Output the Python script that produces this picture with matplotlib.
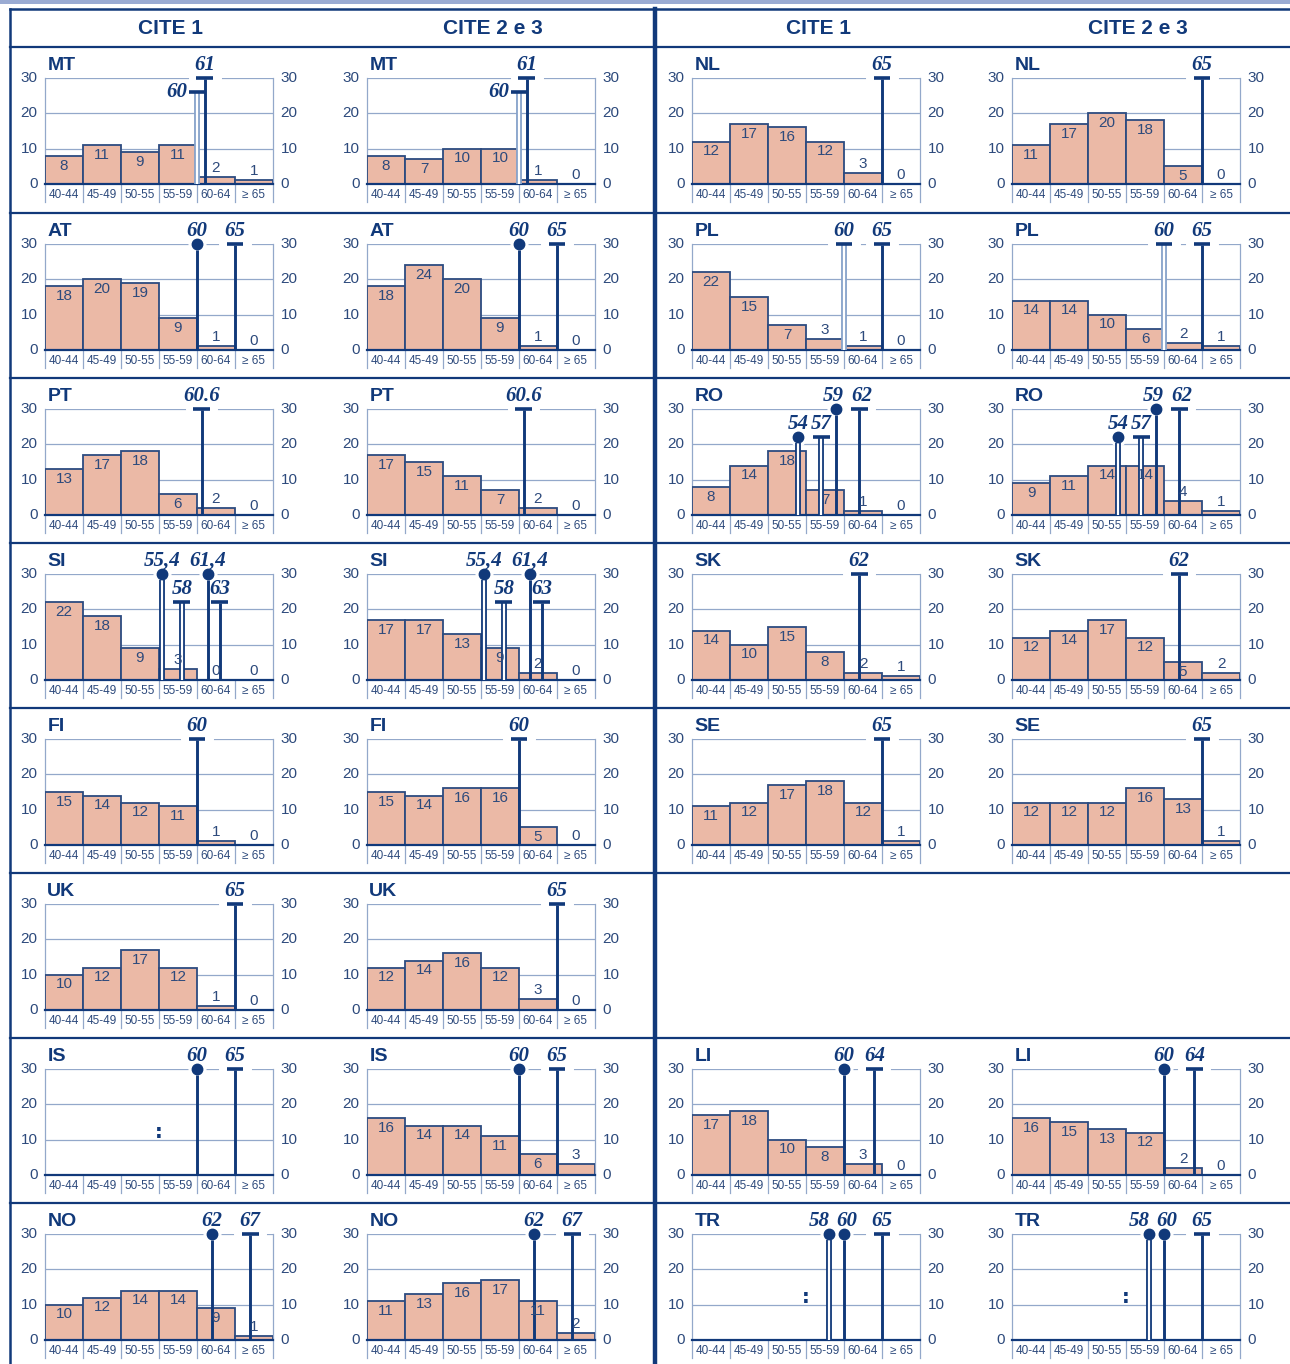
import matplotlib.pyplot as plt
import matplotlib.patches as mpatches

# age groups on the x axis (bins of 5 years from 40 to 70)
age_groups = ['40-44', '45-49', '50-55', '55-59', '60-64', '≥ 65']
bin_left = [40, 45, 50, 55, 60, 65]
y_ticks = [0, 10, 20, 30]

# share of employed persons by age group (%), CITE 1
cite1 = {
    'MT': [8, 11, 9, 11, 2, 1], 'NL': [12, 17, 16, 12, 3, 0],
    'AT': [18, 20, 19, 9, 1, 0], 'PL': [22, 15, 7, 3, 1, 0],
    'PT': [13, 17, 18, 6, 2, 0], 'RO': [8, 14, 18, 7, 1, 0],
    'SI': [22, 18, 9, 3, 0, 0], 'SK': [14, 10, 15, 8, 2, 1],
    'FI': [15, 14, 12, 11, 1, 0], 'SE': [11, 12, 17, 18, 12, 1],
    'UK': [10, 12, 17, 12, 1, 0],
    'IS': None, 'LI': [17, 18, 10, 8, 3, 0],
    'NO': [10, 12, 14, 14, 9, 1], 'TR': None,
}
# CITE 2 e 3
cite23 = {
    'MT': [8, 7, 10, 10, 1, 0], 'NL': [11, 17, 20, 18, 5, 0],
    'AT': [18, 24, 20, 9, 1, 0], 'PL': [14, 14, 10, 6, 2, 1],
    'PT': [17, 15, 11, 7, 2, 0], 'RO': [9, 11, 14, 14, 4, 1],
    'SI': [17, 17, 13, 9, 2, 0], 'SK': [12, 14, 17, 12, 5, 2],
    'FI': [15, 14, 16, 16, 5, 0], 'SE': [12, 12, 12, 16, 13, 1],
    'UK': [12, 14, 16, 12, 3, 0],
    'IS': [16, 14, 14, 11, 6, 3], 'LI': [16, 15, 13, 12, 2, 0],
    'NO': [11, 13, 16, 17, 11, 2], 'TR': None,
}

# retirement ages: (age, label, marker, marker height, line style)
# line style: 's' single, 'd' double, 'l' double light
ret_ages = {
    'MT': [(60, '60', 'capL', 26, 'l'), (61, '61', 'cap', 30, 's')],
    'NL': [(65, '65', 'cap', 30, 's')],
    'AT': [(60, '60', 'dot', 30, 's'), (65, '65', 'cap', 30, 's')],
    'PL': [(60, '60', 'cap', 30, 'l'), (65, '65', 'cap', 30, 's')],
    'PT': [(60.6, '60.6', 'cap', 30, 's')],
    'RO': [(54, '54', 'dot', 22, 'd'), (57, '57', 'cap', 22, 'd'),
           (59, '59', 'dot', 30, 's'), (62, '62', 'cap', 30, 's')],
    'SI': [(55.4, '55,4', 'dot', 30, 'd'), (61.4, '61,4', 'dot', 30, 's'),
           (58, '58', 'cap', 22, 'd'), (63, '63', 'cap', 22, 's')],
    'SK': [(62, '62', 'cap', 30, 's')],
    'FI': [(60, '60', 'cap', 30, 's')],
    'SE': [(65, '65', 'cap', 30, 's')],
    'UK': [(65, '65', 'cap', 30, 's')],
    'IS': [(60, '60', 'dot', 30, 's'), (65, '65', 'cap', 30, 's')],
    'LI': [(60, '60', 'dot', 30, 's'), (64, '64', 'cap', 30, 's')],
    'NO': [(62, '62', 'dot', 30, 's'), (67, '67', 'cap', 30, 's')],
    'TR': [(58, '58', 'dot', 30, 'd'), (60, '60', 'dot', 30, 's'),
           (65, '65', 'cap', 30, 's')],
}
# labels nudged sideways where they would collide
label_shift = {('TR', 58): -1.3, ('TR', 60): 0.4, ('RO', 59): -0.4, ('RO', 62): 0.3}

left_half = ['MT', 'AT', 'PT', 'SI', 'FI', 'UK', 'IS', 'NO']
right_half = ['NL', 'PL', 'RO', 'SK', 'SE', None, 'LI', 'TR']
headers = ['CITE 1', 'CITE 2 e 3', 'CITE 1', 'CITE 2 e 3']

navy = '#11397a'
textc = '#2d4a7c'
grid = '#93a8ca'
light = '#86a2ca'
fill = '#ebb9a6'
edge = '#2c4b80'
sans = 'Liberation Sans'

W, H = 1290, 1364
fig = plt.figure(figsize=(W / 100, H / 100), dpi=100)


def box(x, y, w, h):
    return [x / W, 1 - (y + h) / H, w / W, h / H]


bg = fig.add_axes([0, 0, 1, 1])
bg.set_xlim(0, W)
bg.set_ylim(H, 0)
bg.axis('off')
bg.add_patch(mpatches.Rectangle((0, 0), W, 3.5, color='#9aabd3', lw=0))
bg.plot([10, W], [9, 9], color=navy, lw=1.8)
bg.plot([10, 10], [9, H], color=navy, lw=1.8)
bg.plot([655, 655], [9, H], color=navy, lw=3.2)
row_tops = [47, 213, 378, 543, 708, 873, 1038, 1203]
for y in row_tops:
    bg.plot([10, W], [y, y], color=navy, lw=1.6)
cell_left = [10, 332, 657, 977]
for x, t in zip(cell_left, headers):
    bg.text(x + 161, 29, t, ha='center', va='center', fontsize=15,
            fontweight='bold', color=navy, family=sans)


def draw_panel(x0, y0, code, values):
    ax = fig.add_axes(box(x0 + 35, y0 + 31, 228, 106))
    ax.set_xlim(40, 70)
    ax.set_ylim(0, 30)
    ax.axis('off')
    for g in (10, 20, 30):
        ax.plot([40, 70], [g, g], color=grid, lw=0.9, zorder=1)
    for e in (40, 70):
        ax.plot([e, e], [-5, 30], color=grid, lw=0.9, zorder=1, clip_on=False)
    for e in range(45, 70, 5):
        ax.plot([e, e], [0, -5], color=grid, lw=0.9, clip_on=False)
    for i, lab in enumerate(age_groups):
        ax.text(bin_left[i] + 2.5, -3.2, lab, ha='center', va='center',
                fontsize=8.5, color=textc, family=sans)
    for t in y_ticks:
        ax.text(39.0, t, str(t), ha='right', va='center', fontsize=11,
                color=textc, family=sans)
        ax.text(71.0, t, str(t), ha='left', va='center', fontsize=11,
                color=textc, family=sans)
    ax.text(40.3, 33.6, code, ha='left', va='center', fontsize=14,
            fontweight='bold', color=navy, family=sans, clip_on=False)

    if values is None:
        ax.text(55, 12, ':', ha='center', va='center', fontsize=14,
                fontweight='bold', color=navy)
    else:
        ax.bar(bin_left, values, width=5, align='edge', color=fill,
               edgecolor=edge, lw=1.3, zorder=2)
        for xl, v in zip(bin_left, values):
            if v >= 5:
                ax.text(xl + 2.5, v - 0.8, str(v), ha='center', va='top',
                        fontsize=11, color=textc, family=sans, zorder=6)
            else:
                ax.text(xl + 2.5, v + 0.6, str(v), ha='center', va='bottom',
                        fontsize=11, color=textc, family=sans, zorder=6)
    ax.plot([40, 70], [0, 0], color=navy, lw=1.6, zorder=3, clip_on=False)

    for age, lab, kind, h, style in ret_ages[code]:
        is_dot = kind == 'dot'
        top = h - 1.7 if is_dot else h - 0.3
        if style == 's':
            ax.plot([age, age], [0, top], color=navy, lw=2.1,
                    solid_capstyle='butt', zorder=4, clip_on=False)
        else:
            c = light if style == 'l' else navy
            ax.plot([age, age], [0, top], color=c, lw=4.2,
                    solid_capstyle='butt', zorder=4, clip_on=False)
            ax.plot([age, age], [0, top], color='white', lw=1.6,
                    solid_capstyle='butt', zorder=4, clip_on=False)
        if is_dot:
            ax.plot([age], [h], 'o', color='white', ms=12, zorder=3,
                    clip_on=False)
            ax.plot([age], [h], 'o', color=navy, ms=7.5, zorder=5,
                    clip_on=False)
        else:
            ax.plot([age - 1.7, age + 1.7], [h, h], color='white', lw=5,
                    zorder=3, clip_on=False)
            ax.plot([age - 1.1, age + 1.1], [h, h], color=navy, lw=2.6,
                    solid_capstyle='butt', zorder=5, clip_on=False)
        lx = age + label_shift.get((code, age), 0)
        if kind == 'capL':
            ax.text(age - 1.3, h, lab, ha='right', va='center', fontsize=15,
                    style='italic', fontweight='bold', color=navy,
                    family='Liberation Serif', zorder=6)
        else:
            ax.text(lx, h + 0.9, lab, ha='center', va='bottom', fontsize=15,
                    style='italic', fontweight='bold', color=navy,
                    family='Liberation Serif', zorder=6, clip_on=False)


for r, top in enumerate(row_tops):
    for half, codes in enumerate((left_half, right_half)):
        code = codes[r]
        if code is None:
            continue
        draw_panel(cell_left[2 * half], top, code, cite1[code])
        draw_panel(cell_left[2 * half + 1], top, code, cite23[code])

fig.savefig('out.png', dpi=100)
